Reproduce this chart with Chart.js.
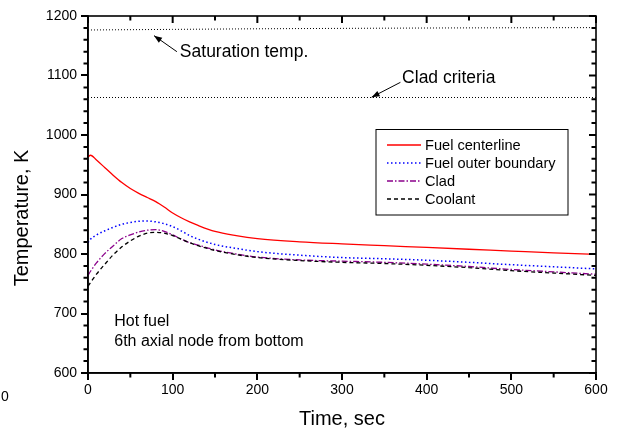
<!DOCTYPE html>
<html><head><meta charset="utf-8">
<script src="https://cdn.jsdelivr.net/npm/chart.js@4/dist/chart.umd.min.js"></script>
<style>html,body{margin:0;padding:0;background:#fff}canvas{display:block}</style>
</head><body>
<canvas id="c" width="620" height="434"></canvas>
<script>
// ---- data ----
const timeSec = [0,3,10,20,30,40,50,60,70,80,90,100,110,120,130,150,175,200,250,300,350,400,450,500,550,600];
const fuelCenterline = [963,966,958,945,932,920,910,902,895,888,879,869,861,854,848,838,831,826,820.5,817,814,811,808,805,802,799.5];
const fuelOuterBoundary = [819,825,832,839,845,850,853,855,855.5,854,851,846,839,831,825,816,809.5,804,798,794,792,789.5,786,782,778.5,775];
const clad = [764,771,785,801,814,826,832,837,840,841,838,832,825,819,815,807,800,795,790,788,786,783,779,774,770,766];
const coolant = [746,752,766,783,799,812,822,830,835,836.5,835,831,825,819,814,806,799,794,789,786,784,781,777,772,768,764];

const refTime = [0,100,200,300,400,500,600];
const saturationTemp = [1176.5,1177.5,1178.5,1179.2,1179.8,1180.2,1180.5];
const cladCriteriaTime = [0,600];
const cladCriteria = [1063,1063];

const xTicks = [0,100,200,300,400,500,600];
const yTicks = [600,700,800,900,1000,1100,1200];

const seriesNames = ['Fuel centerline','Fuel outer boundary','Clad','Coolant'];
const noteLines = ['Hot fuel','6th axial node from bottom'];

const FONT = "'Liberation Sans', Arial, sans-serif";
const pts = (xs, ys) => xs.map((x, i) => ({x, y: ys[i]}));

const legendPlugin = {
  id: 'boxLegend',
  afterDatasetsDraw(chart) {
    const ctx = chart.ctx;
    const left = 376, top = 129.5, w = 192, h = 85.5;
    ctx.save();
    ctx.fillStyle = '#fff';
    ctx.fillRect(left, top, w, h);
    ctx.strokeStyle = '#000';
    ctx.lineWidth = 1;
    ctx.setLineDash([]);
    ctx.strokeRect(left, top, w, h);
    ctx.font = '14.6px ' + FONT;
    ctx.textBaseline = 'middle';
    ctx.fillStyle = '#000';
    chart.data.datasets.forEach((ds) => {
      if (!ds.inLegend) return;
      const y = top + 15.5 + ds.legendIndex * 18;
      ctx.strokeStyle = ds.borderColor;
      ctx.lineWidth = ds.borderWidth;
      ctx.setLineDash(ds.borderDash || []);
      ctx.beginPath(); ctx.moveTo(387, y); ctx.lineTo(421, y); ctx.stroke();
      ctx.setLineDash([]);
      ctx.fillText(ds.label, 425, y + 0.5);
    });
    ctx.restore();
  }
};

function arrow(ctx, x1, y1, x2, y2) {
  ctx.beginPath(); ctx.moveTo(x1, y1); ctx.lineTo(x2, y2); ctx.stroke();
  const a = Math.atan2(y2 - y1, x2 - x1), L = 8, W = 3;
  ctx.beginPath();
  ctx.moveTo(x2, y2);
  ctx.lineTo(x2 - L * Math.cos(a) + W * Math.sin(a), y2 - L * Math.sin(a) - W * Math.cos(a));
  ctx.lineTo(x2 - L * Math.cos(a) - W * Math.sin(a), y2 - L * Math.sin(a) + W * Math.cos(a));
  ctx.closePath(); ctx.fill();
}

const framePlugin = {
  id: 'frameAndNotes',
  afterDraw(chart) {
    const ctx = chart.ctx, a = chart.chartArea;
    const xs = chart.scales.x, ys = chart.scales.y;
    ctx.save();
    ctx.strokeStyle = '#000'; ctx.fillStyle = '#000';
    ctx.setLineDash([]);
    ctx.lineWidth = 1.6;
    ctx.strokeRect(a.left, a.top, a.right - a.left, a.bottom - a.top);
    ctx.lineWidth = 2;
    for (let v = 0; v <= 600; v += 50) {
      const p = xs.getPixelForValue(v), major = v % 100 === 0;
      const L = major ? 7 : 4.5;
      ctx.beginPath();
      if (!major) { ctx.moveTo(p, a.bottom); ctx.lineTo(p, a.bottom + L); }
      ctx.moveTo(p, a.top); ctx.lineTo(p, a.top + L);
      ctx.stroke();
    }
    for (let v = 600; v <= 1200; v += 20) {
      const p = ys.getPixelForValue(v), major = v % 100 === 0;
      const L = major ? 7 : 4.5;
      ctx.beginPath();
      if (!major) { ctx.moveTo(a.left, p); ctx.lineTo(a.left - L, p); }
      ctx.moveTo(a.right, p); ctx.lineTo(a.right - L, p);
      ctx.stroke();
    }
    // y axis title
    ctx.save();
    ctx.font = '20px ' + FONT;
    ctx.textAlign = 'center'; ctx.textBaseline = 'middle';
    ctx.translate(22, 218); ctx.rotate(-Math.PI / 2);
    ctx.fillText('Temperature, K', 0, 0);
    ctx.restore();
    // annotations
    ctx.lineWidth = 1;
    ctx.font = '17.5px ' + FONT;
    ctx.textBaseline = 'middle';
    ctx.textAlign = 'left';
    arrow(ctx, xs.getPixelForValue(105), ys.getPixelForValue(1140), xs.getPixelForValue(78), ys.getPixelForValue(1167));
    ctx.fillText('Saturation temp.', xs.getPixelForValue(108.5), ys.getPixelForValue(1140));
    arrow(ctx, xs.getPixelForValue(369), ys.getPixelForValue(1088.5), xs.getPixelForValue(335), ys.getPixelForValue(1063.5));
    ctx.fillText('Clad criteria', xs.getPixelForValue(371), ys.getPixelForValue(1096));
    ctx.font = '16px ' + FONT;
    ctx.fillText(noteLines[0], xs.getPixelForValue(31), ys.getPixelForValue(686));
    ctx.fillText(noteLines[1], xs.getPixelForValue(31), ys.getPixelForValue(653));
    ctx.font = '14px ' + FONT;
    ctx.fillText('0', 1, 397);
    ctx.restore();
  }
};

const dsBase = {pointRadius: 0, fill: false, cubicInterpolationMode: 'monotone'};
new Chart(document.getElementById('c'), {
  type: 'line',
  data: {
    datasets: [
      Object.assign({label: 'Saturation temp.', data: pts(refTime, saturationTemp), borderColor: '#000', borderWidth: 1, borderDash: [1, 2]}, dsBase),
      Object.assign({label: 'Clad criteria', data: pts(cladCriteriaTime, cladCriteria), borderColor: '#000', borderWidth: 1, borderDash: [1, 2]}, dsBase),
      Object.assign({label: seriesNames[3], data: pts(timeSec, coolant), borderColor: '#000', borderWidth: 1.3, borderDash: [4, 3], inLegend: true, legendIndex: 3}, dsBase),
      Object.assign({label: seriesNames[2], data: pts(timeSec, clad), borderColor: '#8b008b', borderWidth: 1.3, borderDash: [6, 2, 1.5, 2], inLegend: true, legendIndex: 2}, dsBase),
      Object.assign({label: seriesNames[1], data: pts(timeSec, fuelOuterBoundary), borderColor: '#0000ff', borderWidth: 1.5, borderDash: [1.5, 2.5], inLegend: true, legendIndex: 1}, dsBase),
      Object.assign({label: seriesNames[0], data: pts(timeSec, fuelCenterline), borderColor: '#ff0000', borderWidth: 1.3, inLegend: true, legendIndex: 0}, dsBase)
    ]
  },
  options: {
    responsive: false,
    devicePixelRatio: 1,
    animation: false,
    layout: {padding: {left: 0, right: 24, top: 16, bottom: 0}},
    plugins: {legend: {display: false}, tooltip: {enabled: false}},
    scales: {
      x: {
        type: 'linear', min: 0, max: 600,
        afterBuildTicks: s => { s.ticks = xTicks.map(v => ({value: v})); },
        afterFit: s => { s.height = 61; },
        ticks: {font: {family: FONT, size: 14}, color: '#000', padding: 2, maxRotation: 0, callback: v => String(v)},
        grid: {drawOnChartArea: false, drawTicks: true, tickLength: 7, color: '#000', lineWidth: 2},
        border: {display: true, color: '#000', width: 1.6},
        title: {display: true, text: 'Time, sec', font: {family: FONT, size: 20}, color: '#000', padding: {top: 0, bottom: 3}}
      },
      y: {
        type: 'linear', min: 600, max: 1200,
        afterBuildTicks: s => { s.ticks = yTicks.map(v => ({value: v})); },
        afterFit: s => { s.width = 88; },
        ticks: {font: {family: FONT, size: 14}, color: '#000', padding: 4, callback: v => String(v)},
        grid: {drawOnChartArea: false, drawTicks: true, tickLength: 7, color: '#000', lineWidth: 2},
        border: {display: true, color: '#000', width: 1.6},
        title: {display: false}
      }
    }
  },
  plugins: [legendPlugin, framePlugin]
});
</script>
</body></html>
